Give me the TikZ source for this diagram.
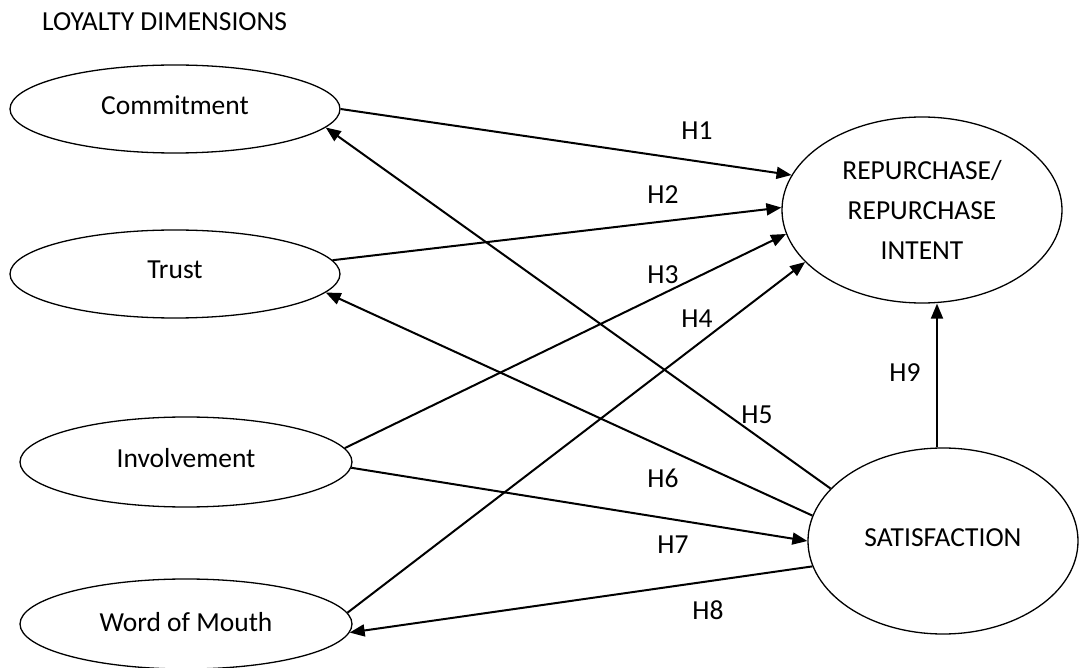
\documentclass[tikz,border=0pt]{standalone}
\usepackage{fontspec}
\setmainfont{Carlito}
\usetikzlibrary{shapes.geometric,arrows.meta}
\begin{document}
\begin{tikzpicture}[x=1pt,y=-1pt,
  construct/.style={draw=black,line width=1.3pt,ellipse,inner sep=0pt,align=center,
    font=\fontsize{27.5}{40}\selectfont},
  single/.style={text depth=8pt},
  link/.style={line width=2pt,-{Triangle[length=15pt,width=12pt]}},
  hlabel/.style={font=\fontsize{27.5}{33}\selectfont,inner sep=0pt}]
\useasboundingbox (0,0) rectangle (1080,668);
\node[anchor=west,inner sep=0pt,font=\fontsize{27.5}{33}\selectfont] (title) at (42,22) {LOYALTY DIMENSIONS};

\node[construct,single,minimum width=330pt,minimum height=88pt] (com) at (175,109) {Commitment};
\node[construct,single,minimum width=330pt,minimum height=88pt] (tru) at (175,274) {Trust};
\node[construct,single,minimum width=332pt,minimum height=90pt] (inv) at (186,462) {Involvement};
\node[construct,text depth=4pt,minimum width=332pt,minimum height=90pt] (wom) at (186,624) {Word of Mouth};
\node[construct,minimum width=280pt,minimum height=186pt] (rep) at (922,210) {REPURCHASE/\\REPURCHASE\\INTENT};
\node[construct,text depth=6pt,minimum width=270pt,minimum height=186pt] (sat) at (943,541) {SATISFACTION};

\draw[link] (com.0) -- (rep.165);
\draw[link] (tru.5) -- (rep.179);
\draw[link] (inv.5) -- (rep.190);
\draw[link] (wom.4.5) -- (rep.204);
\draw[link] (sat.155) -- (com.-7);
\draw[link] (sat.169) -- (tru.-7);
\draw[link] (inv.-2) -- (sat.180);
\draw[link] (sat.191.5) -- (wom.-3);
\draw[link] ([xshift=-6pt]sat.north) -- ([xshift=-6pt]sat.north |- rep.south);

\node[hlabel] (h1) at (697,131) {H1};
\node[hlabel] (h2) at (663,195) {H2};
\node[hlabel] (h3) at (663,275) {H3};
\node[hlabel] (h4) at (697,319) {H4};
\node[hlabel] (h5) at (757,415) {H5};
\node[hlabel] (h6) at (663,478) {H6};
\node[hlabel] (h7) at (673,545) {H7};
\node[hlabel] (h8) at (708,610) {H8};
\node[hlabel] (h9) at (905,373) {H9};
\end{tikzpicture}
\end{document}
